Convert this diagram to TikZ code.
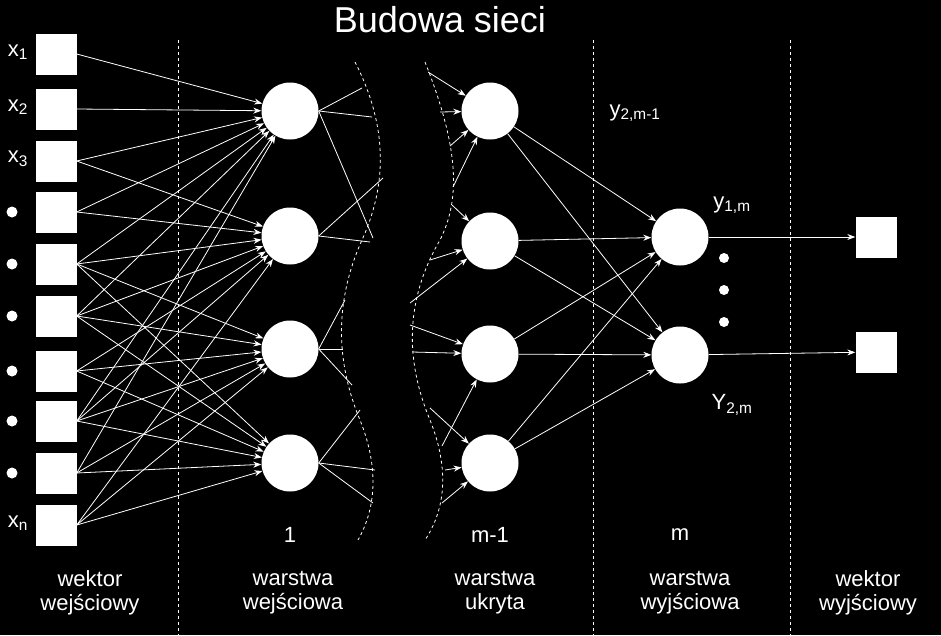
\documentclass[tikz,border=0pt]{standalone}
\usepackage{fontspec}
\setmainfont{Liberation Sans}
\usetikzlibrary{arrows.meta}
\begin{document}
\begin{tikzpicture}[x=1pt,y=-1pt,
  sq/.style={fill=white,minimum size=41pt,inner sep=0pt},
  neuron/.style={circle,fill=white,minimum size=57pt,inner sep=0pt},
  conn/.style={white,line width=0.8pt,-{Stealth[length=8pt,width=6pt]}},
  plain/.style={white,line width=0.8pt},
  sep/.style={white,dashed,line width=0.8pt},
  lbl/.style={white,font=\fontsize{22}{24}\selectfont,align=center},
  dotc/.style={circle,fill=white,minimum size=11pt,inner sep=0pt}]
\fill[black] (0,0) rectangle (941,635);
\useasboundingbox (0,0) rectangle (941,635);
\node[white,font=\fontsize{36}{38}\selectfont] (title) at (440,20) {Budowa sieci};
% separators
\draw[sep] (178,40) -- (178,635);
\draw[sep] (593,40) -- (593,635);
\draw[sep] (790,40) -- (790,635);
\draw[sep] (355,62) .. controls (395,140) and (380,200) .. (362,240) .. controls (335,300) and (335,360) .. (360,420) .. controls (380,470) and (375,510) .. (358,540);
\draw[sep] (425,62) .. controls (460,150) and (460,200) .. (440,240) .. controls (405,300) and (405,360) .. (430,420) .. controls (450,470) and (445,510) .. (425,540);
% inputs
\foreach \i/\y in {1/54,2/109,3/161,4/212,5/264,6/316,7/371,8/421,9/473,10/525}
  \node[sq] (s\i) at (56,\y) {};
\node[lbl,anchor=center] (lx1) at (18,52) {x\textsubscript{1}};
\node[lbl] (lx2) at (18,107) {x\textsubscript{2}};
\node[lbl] (lx3) at (18,159) {x\textsubscript{3}};
\node[lbl] (lxn) at (18,523) {x\textsubscript{n}};
\foreach \i/\y in {4/212,5/264,6/316,7/371,8/421,9/473}
  \node[dotc] (d\i) at (12,\y) {};
% layer 1
\foreach \i/\y in {1/111,2/236,3/349,4/463}
  \node[neuron] (a\i) at (290,\y) {};
% hidden
\foreach \i/\y in {1/111,2/241,3/354,4/463}
  \node[neuron] (h\i) at (490,\y) {};
% output
\node[neuron] (o1) at (680,237) {};
\node[neuron] (o2) at (680,355) {};
\node[sq] (q1) at (876,237) {};
\node[sq] (q2) at (876,352) {};
% input connections
\foreach \s/\t in {1/1,2/1,3/1,3/2,4/1,4/2,5/1,5/2,5/3,5/4,6/1,6/2,6/3,6/4,7/2,7/3,7/4,8/1,8/2,8/3,8/4,9/1,9/3,9/4,10/2,10/3,10/4}
  \draw[conn] (s\s.east) -- (a\t);
% layer1 short lines
\foreach \t/\x/\y in {1/362/88,1/372/117,1/373/238,2/383/178,2/370/242,3/345/300,3/343/349,3/352/385,4/360/410,4/375/470,4/373/503}
  { \coordinate (e) at (\x,\y); \draw[plain] (a\t.east) -- (e); }
% hidden incoming
\foreach \t/\x/\y in {1/428/72,1/440/112,1/450/146,1/453/187,2/452/205,2/430/260,2/410/303,3/410/325,3/412/352,4/430/408,3/442/446,4/445/470,4/442/503}
  { \coordinate (b) at (\x,\y); \draw[conn] (b) -- (h\t); }
% hidden to output
\foreach \s in {1,2,3,4}
  \foreach \t in {1,2}
    \draw[conn] (h\s) -- (o\t);
\draw[conn] (o1) -- (q1);
\draw[conn] (o2) -- (q2);
% labels
\node[lbl] (ly2) at (635,113) {y\textsubscript{2,m-1}};
\node[lbl] (ly1) at (732,205) {y\textsubscript{1,m}};
\node[lbl] (lY2) at (732,405) {Y\textsubscript{2,m}};
\node[dotc,minimum size=10pt] (v1) at (724,258) {};
\node[dotc,minimum size=10pt] (v2) at (724,290) {};
\node[dotc,minimum size=10pt] (v3) at (724,322) {};
\node[lbl] (n1) at (290,535) {1};
\node[lbl] (n2) at (490,535) {m-1};
\node[lbl] (n3) at (680,535) {m};
\node[lbl] (b1) at (90,593) {wektor\\wejściowy};
\node[lbl] (b2) at (293,593) {warstwa\\wejściowa};
\node[lbl] (b3) at (495,593) {warstwa\\ukryta};
\node[lbl] (b4) at (690,593) {warstwa\\wyjściowa};
\node[lbl] (b5) at (868,593) {wektor\\wyjściowy};
\end{tikzpicture}
\end{document}
